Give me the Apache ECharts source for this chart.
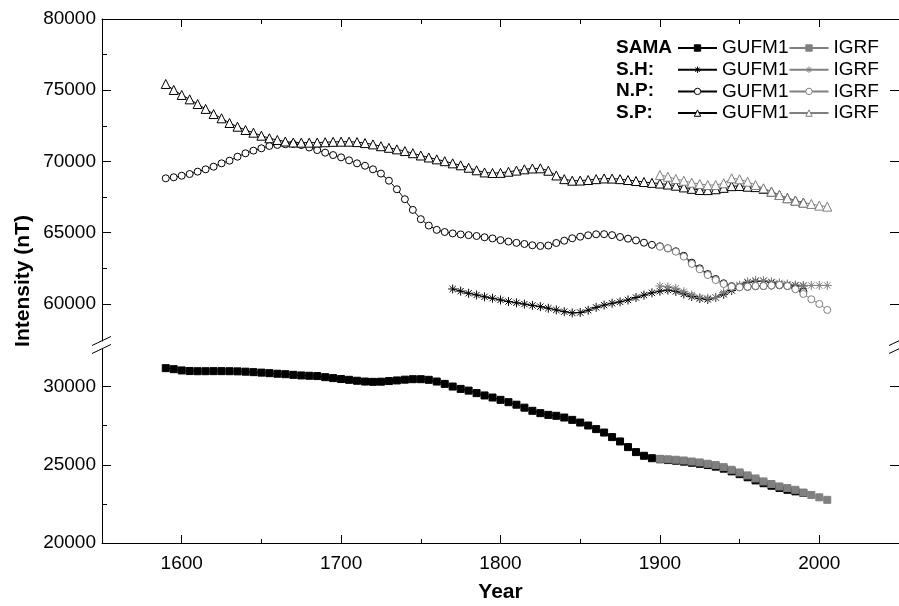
<!DOCTYPE html>
<html>
<head>
<meta charset="utf-8">
<script src="https://cdn.jsdelivr.net/npm/echarts@6/dist/echarts.min.js"></script>
<style>
  html, body { margin: 0; padding: 0; background: #fff; }
  #chart { width: 899px; height: 606px; }
</style>
</head>
<body>
<div id="chart"></div>
<script>
// years
const gufmYears = [
    1590, 1595, 1600, 1605, 1610, 1615, 1620, 1625, 1630, 1635,
    1640, 1645, 1650, 1655, 1660, 1665, 1670, 1675, 1680, 1685,
    1690, 1695, 1700, 1705, 1710, 1715, 1720, 1725, 1730, 1735,
    1740, 1745, 1750, 1755, 1760, 1765, 1770, 1775, 1780, 1785,
    1790, 1795, 1800, 1805, 1810, 1815, 1820, 1825, 1830, 1835,
    1840, 1845, 1850, 1855, 1860, 1865, 1870, 1875, 1880, 1885,
    1890, 1895, 1900, 1905, 1910, 1915, 1920, 1925, 1930, 1935,
    1940, 1945, 1950, 1955, 1960, 1965, 1970, 1975, 1980, 1985,
    1990,
]
const shYears = [
    1770, 1775, 1780, 1785, 1790, 1795, 1800, 1805, 1810, 1815,
    1820, 1825, 1830, 1835, 1840, 1845, 1850, 1855, 1860, 1865,
    1870, 1875, 1880, 1885, 1890, 1895, 1900, 1905, 1910, 1915,
    1920, 1925, 1930, 1935, 1940, 1945, 1950, 1955, 1960, 1965,
    1970, 1975, 1980, 1985, 1990,
]
const igrfYears = [
    1900, 1905, 1910, 1915, 1920, 1925, 1930, 1935, 1940, 1945,
    1950, 1955, 1960, 1965, 1970, 1975, 1980, 1985, 1990, 1995,
    2000, 2005,
]

// SAMA (lower panel)
const samaGufm = [
    31175, 31110, 31030, 30990, 30980, 30980, 30985, 30985, 30980, 30970,
    30950, 30920, 30890, 30855, 30820, 30790, 30750, 30710, 30690, 30670,
    30600, 30540, 30480, 30430, 30370, 30320, 30300, 30310, 30350, 30390,
    30440, 30470, 30470, 30430, 30320, 30170, 30000, 29850, 29740, 29580,
    29430, 29300, 29150, 29000, 28840, 28650, 28450, 28300, 28190, 28130,
    28020, 27870, 27700, 27510, 27280, 27060, 26770, 26490, 26130, 25810,
    25575, 25420, 25350, 25300, 25260, 25200, 25130, 25060, 24980, 24880,
    24750, 24580, 24400, 24200, 24000, 23820, 23660, 23520, 23400, 23300,
    23200,
]
const samaIgrf = [
    25380, 25350, 25320, 25275, 25210, 25150, 25065, 24980, 24850, 24680,
    24510, 24320, 24125, 23935, 23770, 23615, 23510, 23400, 23220, 23070,
    22920, 22760,
]

// S.H.
const shGufm = [
    61050, 60900, 60750, 60630, 60500, 60400, 60280, 60170, 60080, 59990,
    59900, 59810, 59700, 59580, 59460, 59370, 59400, 59560, 59760, 59920,
    60050, 60150, 60280, 60450, 60620, 60780, 60900, 60980, 60880, 60700,
    60520, 60380, 60320, 60450, 60680, 60950, 61250, 61500, 61600, 61620,
    61500, 61400, 61340, 61300, 61270,
]
const shIgrf = [
    61260, 61200, 61100, 60860, 60630, 60450, 60400, 60450, 60800, 61030,
    61330, 61550, 61650, 61640, 61560, 61480, 61400, 61330, 61300, 61300,
    61300, 61300,
]

// N.P.
const npGufm = [
    68820, 68890, 69000, 69120, 69285, 69450, 69635, 69870, 70055, 70335,
    70575, 70760, 70925, 71090, 71160, 71210, 71230, 71150, 70980, 70800,
    70620, 70450, 70290, 70080, 69870, 69700, 69450, 69150, 68650, 68050,
    67350, 66600, 65950, 65500, 65200, 65050, 64950, 64880, 64830, 64770,
    64680, 64600, 64480, 64380, 64290, 64210, 64120, 64070, 64100, 64280,
    64440, 64610, 64720, 64820, 64890, 64900, 64830, 64700, 64580, 64460,
    64300, 64150, 64050, 63900, 63700, 63380, 62900, 62500, 62100, 61750,
    61450, 61250, 61180, 61200, 61250, 61260, 61290, 61310, 61260, 61100,
    60850,
]
const npIgrf = [
    64020, 63910, 63670, 63320, 62810, 62430, 62030, 61680, 61400, 61210,
    61170, 61210, 61260, 61260, 61300, 61330, 61260, 61030, 60700, 60330,
    60000, 59580,
]

// S.P.
const spGufm = [
    75440, 75020, 74670, 74360, 74030, 73690, 73330, 73030, 72700, 72440,
    72210, 72020, 71810, 71630, 71510, 71400, 71330, 71320, 71320, 71330,
    71350, 71380, 71390, 71390, 71360, 71290, 71200, 71070, 70960, 70850,
    70730, 70580, 70420, 70280, 70150, 70020, 69870, 69730, 69560, 69380,
    69230, 69190, 69200, 69280, 69360, 69450, 69510, 69520, 69350, 69020,
    68760, 68650, 68660, 68700, 68760, 68810, 68800, 68760, 68700, 68630,
    68560, 68500, 68450, 68380, 68300, 68180, 68080, 68000, 67990, 68050,
    68150, 68270, 68280, 68230, 68200, 68080, 67880, 67650, 67430, 67260,
    67120,
]
const spIgrf = [
    69050, 68930, 68770, 68650, 68510, 68420, 68350, 68350, 68470, 68820,
    68750, 68580, 68350, 68120, 67880, 67650, 67420, 67250, 67110, 67020,
    66900, 66830,
]

// tick labels
const xMajor = [1600, 1700, 1800, 1900, 2000]
const xMinor = [1650, 1750, 1850, 1950]
const upperMajor = [60000, 65000, 70000, 75000, 80000]
const upperMinor = [62500, 67500, 72500, 77500]
const lowerMajor = [20000, 25000, 30000]
const lowerMinor = [22500, 27500]

const X_MIN = 1550, X_MAX = 2050
const UP_MIN = 57400, UP_MAX = 80000
const LO_MIN = 20000, LO_MAX = 32400

const FONT = '"Liberation Sans", Arial, Helvetica, sans-serif'
const BLACK = '#000'
const GREY = '#808080'
const ASTERISK = 'path://M5,0L5,10M0,5L10,5M1.5,1.5L8.5,8.5M1.5,8.5L8.5,1.5'

const zip = (xs, ys) => xs.map((x, i) => [x, ys[i]])

const chart = echarts.init(document.getElementById('chart'))

// axis with line + major ticks (+ labels)
const mainAxis = (gridIndex, position, min, max, major, showLabel, tickLen) => ({
    type: 'value',
    gridIndex,
    position,
    min,
    max,
    splitLine: { show: false },
    axisLine: { show: true, onZero: false, lineStyle: { color: BLACK, width: 1 } },
    axisTick: { show: true, inside: true, length: tickLen, customValues: major, lineStyle: { color: BLACK } },
    axisLabel: {
        show: showLabel,
        customValues: major,
        formatter: (v) => String(v),
        color: BLACK,
        fontSize: 19,
        fontFamily: FONT,
        margin: position === 'bottom' ? 11 : 6,
    },
})

// axis with only minor ticks
const minorAxis = (gridIndex, position, min, max, minor) => ({
    type: 'value',
    gridIndex,
    position,
    min,
    max,
    splitLine: { show: false },
    axisLine: { show: false, onZero: false },
    axisTick: { show: true, inside: true, length: 5, customValues: minor, lineStyle: { color: BLACK } },
    axisLabel: { show: false },
})

const makeSeries = (name, years, values, lower, symbol, size, color, fill) => ({
    name,
    type: 'line',
    xAxisIndex: lower ? 2 : 0,
    yAxisIndex: lower ? 3 : 0,
    data: zip(years, values),
    symbol,
    symbolSize: size,
    showSymbol: true,
    showAllSymbol: true,
    lineStyle: { color, width: 1 },
    itemStyle: { color: fill, borderColor: color, borderWidth: 1 },
    emphasis: { disabled: true },
})

const xAxis = [
    mainAxis(0, 'top', X_MIN, X_MAX, xMajor, false, 8),
    minorAxis(0, 'top', X_MIN, X_MAX, xMinor),
    Object.assign(mainAxis(1, 'bottom', X_MIN, X_MAX, xMajor, true, 8), {
        name: 'Year',
        nameLocation: 'middle',
        nameGap: 39,
        nameTextStyle: { color: BLACK, fontSize: 21, fontWeight: 'bold', fontFamily: FONT },
    }),
    minorAxis(1, 'bottom', X_MIN, X_MAX, xMinor),
]
xAxis[3].axisTick.length = 4

const yAxis = [
    mainAxis(0, 'left', UP_MIN, UP_MAX, upperMajor, true, 9),
    minorAxis(0, 'left', UP_MIN, UP_MAX, upperMinor),
    mainAxis(0, 'right', UP_MIN, UP_MAX, upperMajor, false, 9),
    mainAxis(1, 'left', LO_MIN, LO_MAX, lowerMajor, true, 9),
    minorAxis(1, 'left', LO_MIN, LO_MAX, lowerMinor),
    mainAxis(1, 'right', LO_MIN, LO_MAX, lowerMajor, false, 9),
]

const series = [
    makeSeries('SAMA GUFM1', gufmYears, samaGufm, true, 'rect', 7, BLACK, BLACK),
    makeSeries('S.H GUFM1', shYears, shGufm, false, ASTERISK, 9, BLACK, BLACK),
    makeSeries('N.P GUFM1', gufmYears, npGufm, false, 'circle', 7, BLACK, '#fff'),
    makeSeries('S.P GUFM1', gufmYears, spGufm, false, 'triangle', 9, BLACK, '#fff'),
    makeSeries('SAMA IGRF', igrfYears, samaIgrf, true, 'rect', 7, GREY, GREY),
    makeSeries('S.H IGRF', igrfYears, shIgrf, false, ASTERISK, 9, GREY, GREY),
    makeSeries('N.P IGRF', igrfYears, npIgrf, false, 'circle', 7, GREY, '#fff'),
    makeSeries('S.P IGRF', igrfYears, spIgrf, false, 'triangle', 9, GREY, '#fff'),
]

const legendRows = [
    ['SAMA GUFM1', 'SAMA IGRF'],
    ['S.H GUFM1', 'S.H IGRF'],
    ['N.P GUFM1', 'N.P IGRF'],
    ['S.P GUFM1', 'S.P IGRF'],
]

const option = {
    animation: false,
    backgroundColor: '#fff',
    title: {
        text: 'SAMA\nS.H:\nN.P:\nS.P:',
        left: 616,
        top: 37,
        padding: 0,
        textStyle: { color: BLACK, fontSize: 19, fontWeight: 'bold', lineHeight: 21.7, fontFamily: FONT },
    },
    legend: legendRows.map((data, i) => ({
        data,
        left: 677,
        top: 38.5 + i * 21.7,
        padding: 0,
        itemWidth: 39,
        itemHeight: 8,
        itemGap: 0,
        selectedMode: false,
        itemStyle: { borderWidth: 1 },
        textStyle: { color: BLACK, fontSize: 19, fontFamily: FONT },
        formatter: (n) => n.split(' ')[1],
    })),
    grid: [
        { left: 102, width: 805, top: 19, height: 322 },
        { left: 102, width: 805, top: 349, height: 194 },
    ],
    xAxis,
    yAxis,
    series,
    graphic: [
        {
            id: 'ytitle',
            type: 'text',
            x: 23,
            y: 281,
            rotation: Math.PI / 2,
            style: {
                text: 'Intensity (nT)',
                font: 'bold 21px ' + FONT,
                fill: BLACK,
                align: 'center',
                verticalAlign: 'middle',
                textAlign: 'center',
                textVerticalAlign: 'middle',
            },
        },
    ],
}

option && chart.setOption(option)

// axis break marks, placed from the axis scales
const xl = chart.convertToPixel({ xAxisIndex: 2 }, X_MIN)
const xr = chart.convertToPixel({ xAxisIndex: 2 }, X_MAX)
const yTop = chart.convertToPixel({ yAxisIndex: 0 }, UP_MIN)
const yBot = chart.convertToPixel({ yAxisIndex: 3 }, LO_MAX)
const slash = (id, x, y) => ({
    id,
    type: 'line',
    shape: { x1: x - 10, y1: y + 4.5, x2: x + 9, y2: y - 4.5 },
    style: { stroke: BLACK, lineWidth: 1 },
})
chart.setOption({
    graphic: [
        slash('bl1', xl, yTop),
        slash('bl2', xl, yBot),
        slash('br1', xr, yTop),
        slash('br2', xr, yBot),
    ],
})
</script>
</body>
</html>
